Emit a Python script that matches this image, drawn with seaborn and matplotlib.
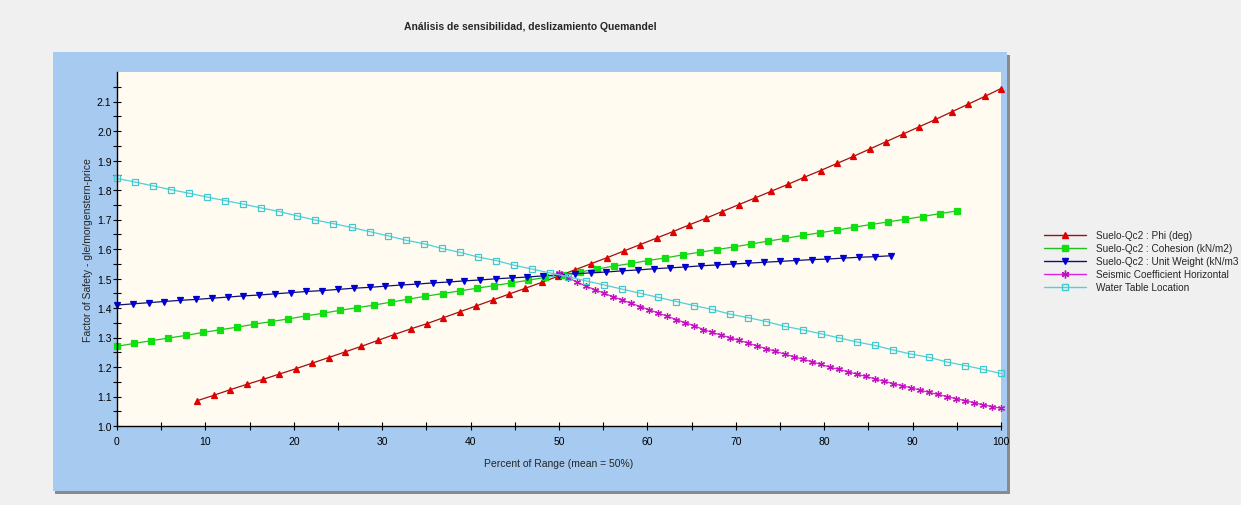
import numpy as np
import pandas as pd
import matplotlib
matplotlib.use("Agg")
import matplotlib.pyplot as plt
import matplotlib.patches as mpatches
from matplotlib.lines import Line2D
import seaborn as sns

# ---------------- data ----------------
title = "Análisis de sensibilidad, deslizamiento Quemandel"
xlabel = "Percent of Range (mean = 50%)"
ylabel = "Factor of Safety - gle/morgenstern-price"

labels = ["Suelo-Qc2 : Phi (deg)", "Suelo-Qc2 : Cohesion (kN/m2)",
          "Suelo-Qc2 : Unit Weight (kN/m3", "Seismic Coefficient Horizontal",
          "Water Table Location"]

# percent-of-range span of each series (50 evenly spaced samples each)
x_start = [9.09, 0.0, 0.0, 50.0, 0.0]
x_end = [100.0, 95.0, 87.5, 100.0, 100.0]

phi = [1.086, 1.104, 1.123, 1.141, 1.158, 1.176, 1.194, 1.213, 1.232, 1.251,
       1.270, 1.290, 1.310, 1.329, 1.347, 1.367, 1.387, 1.407, 1.427, 1.447,
       1.467, 1.487, 1.508, 1.529, 1.550, 1.571, 1.593, 1.615, 1.637, 1.659,
       1.682, 1.704, 1.727, 1.750, 1.773, 1.796, 1.819, 1.843, 1.866, 1.890,
       1.914, 1.939, 1.964, 1.989, 2.014, 2.039, 2.065, 2.091, 2.117, 2.144]

cohesion = [1.270, 1.280, 1.289, 1.298, 1.307, 1.317, 1.326, 1.335, 1.345, 1.354,
            1.363, 1.373, 1.382, 1.392, 1.401, 1.410, 1.420, 1.430, 1.440, 1.449,
            1.458, 1.467, 1.476, 1.485, 1.494, 1.504, 1.513, 1.522, 1.532, 1.542,
            1.551, 1.561, 1.570, 1.580, 1.589, 1.598, 1.607, 1.617, 1.627, 1.636,
            1.646, 1.655, 1.664, 1.674, 1.683, 1.692, 1.701, 1.710, 1.720, 1.729]

unit_weight = [1.410, 1.414, 1.418, 1.422, 1.426, 1.429, 1.433, 1.437, 1.441, 1.444,
               1.448, 1.452, 1.456, 1.459, 1.463, 1.467, 1.470, 1.474, 1.478, 1.481,
               1.485, 1.488, 1.492, 1.495, 1.499, 1.502, 1.505, 1.509, 1.512, 1.516,
               1.519, 1.522, 1.526, 1.529, 1.533, 1.536, 1.539, 1.543, 1.546, 1.549,
               1.552, 1.555, 1.558, 1.561, 1.564, 1.566, 1.569, 1.572, 1.574, 1.577]

seismic = [1.517, 1.503, 1.488, 1.474, 1.462, 1.450, 1.438, 1.427, 1.416, 1.405,
           1.394, 1.383, 1.372, 1.361, 1.350, 1.340, 1.327, 1.317, 1.308, 1.299,
           1.290, 1.281, 1.271, 1.262, 1.253, 1.244, 1.235, 1.227, 1.218, 1.209,
           1.200, 1.192, 1.184, 1.176, 1.168, 1.160, 1.152, 1.144, 1.137, 1.130,
           1.122, 1.114, 1.107, 1.100, 1.093, 1.086, 1.079, 1.072, 1.066, 1.060]

water_table = [1.839, 1.827, 1.814, 1.801, 1.789, 1.776, 1.764, 1.752, 1.739, 1.727,
               1.712, 1.698, 1.686, 1.673, 1.659, 1.645, 1.630, 1.618, 1.602, 1.589,
               1.573, 1.561, 1.545, 1.532, 1.519, 1.506, 1.492, 1.478, 1.464, 1.450,
               1.436, 1.422, 1.408, 1.395, 1.379, 1.367, 1.354, 1.338, 1.326, 1.313,
               1.299, 1.285, 1.273, 1.258, 1.244, 1.233, 1.217, 1.205, 1.192, 1.178]

x_ticks = [0, 10, 20, 30, 40, 50, 60, 70, 80, 90, 100]
y_ticks = [1.0, 1.1, 1.2, 1.3, 1.4, 1.5, 1.6, 1.7, 1.8, 1.9, 2.0, 2.1]

# ---------------- styling ----------------
sns.set_theme(style="white")
FONT = ["Liberation Sans Narrow", "Liberation Sans", "DejaVu Sans"]
plt.rcParams["font.family"] = FONT

ASTER = (6, 2, 0)
styles = [
    dict(color="#a01010", marker="^", mfc="#e00000", mec="#e00000", ms=4.4),
    dict(color="#20c020", marker="s", mfc="#10e010", mec="#10e010", ms=4.0),
    dict(color="#101070", marker="v", mfc="#0000d0", mec="#0000d0", ms=4.4),
    dict(color="#e020e0", marker=ASTER, mfc="#e020e0", mec="#c010c0", ms=5.0),
    dict(color="#50d0d8", marker="s", mfc="none", mec="#40c8d0", ms=4.2),
]
series = [phi, cohesion, unit_weight, seismic, water_table]

W, H = 1241, 506
fig = plt.figure(figsize=(W / 100, H / 100), dpi=100)
fig.patch.set_facecolor("#f0f0f0")

# blue panel with a dark shadow edge
fig.patches.append(mpatches.Rectangle((55 / W, 1 - 495 / H), (1010 - 55) / W, (495 - 56) / H,
                                      transform=fig.transFigure, facecolor="#8a8a8a",
                                      edgecolor="none", zorder=-2))
fig.patches.append(mpatches.Rectangle((53 / W, 1 - 492 / H), (1007 - 53) / W, (492 - 53) / H,
                                      transform=fig.transFigure, facecolor="#a6caf0",
                                      edgecolor="none", zorder=-1))

ax = fig.add_axes([117 / W, 1 - 427 / H, (1001 - 117) / W, (427 - 73) / H])
ax.set_zorder(2)
ax.set_facecolor("#fffbf0")

for lab, ys, xs0, xs1, st in zip(labels, series, x_start, x_end, styles):
    xs = np.linspace(xs0, xs1, len(ys))
    df = pd.DataFrame({"x": xs, "y": ys})
    sns.lineplot(data=df, x="x", y="y", ax=ax, color=st["color"], lw=0.9,
                 marker=st["marker"], markersize=st["ms"],
                 markerfacecolor=st["mfc"], markeredgecolor=st["mec"],
                 markeredgewidth=0.9, estimator=None, sort=False, legend=False,
                 clip_on=False)

ax.set_xlim(0, 100)
ax.set_ylim(1.0, 2.2)
ax.set_xticks(x_ticks)
ax.set_xticks(np.arange(5, 100, 10), minor=True)
ax.set_yticks(y_ticks)
ax.set_yticks(np.arange(1.05, 2.2, 0.1), minor=True)
ax.set_xticklabels([str(v) for v in x_ticks])
ax.set_yticklabels([f"{v:.1f}" for v in y_ticks])
ax.tick_params(axis="both", which="both", direction="inout", length=6, width=0.8,
               colors="black", labelsize=7.5, left=True, bottom=True)
ax.tick_params(axis="x", pad=4)
ax.tick_params(axis="y", pad=1)
for s in ["top", "right"]:
    ax.spines[s].set_visible(False)
for s in ["left", "bottom"]:
    ax.spines[s].set_color("black")
    ax.spines[s].set_linewidth(1.0)

ax.set_xlabel(xlabel, fontsize=7.5, labelpad=9)
ax.set_ylabel(ylabel, fontsize=7.5, labelpad=3)

fig.text(530 / W, 1 - 27 / H, title, ha="center", va="center", fontsize=7.5,
         fontweight="bold", family=["Liberation Sans", "DejaVu Sans"])

handles = [Line2D([], [], color=st["color"], lw=1.0, marker=st["marker"],
                  markersize=st["ms"] + 0.6, markerfacecolor=st["mfc"],
                  markeredgecolor=st["mec"]) for st in styles]
leg = fig.legend(handles, labels, loc="upper left",
                 bbox_to_anchor=(1040 / W, 1 - 227 / H), frameon=False,
                 fontsize=7.2, handlelength=4.2, handletextpad=1.0,
                 labelspacing=0.3, borderaxespad=0)
for t in leg.get_texts():
    t.set_family(["Liberation Sans", "DejaVu Sans"])

fig.savefig("out.png", dpi=100, facecolor=fig.get_facecolor())
